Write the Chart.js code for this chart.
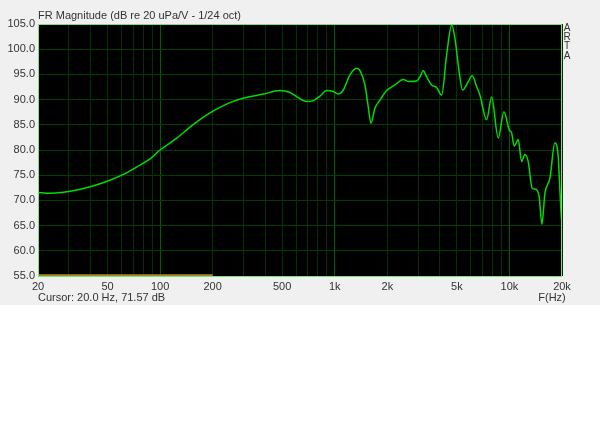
<!DOCTYPE html>
<html>
<head>
<meta charset="utf-8">
<script src="https://cdn.jsdelivr.net/npm/chart.js@4"></script>
<style>
  body { margin: 0; background: #fff; }
  #wrap { width: 600px; height: 305px; position: relative; }
</style>
</head>
<body>
<div id="wrap"><canvas id="frChart"></canvas></div>
<script>
// frequency (Hz) and magnitude (dB)
const freqHz = [20, 23.4, 28, 35, 43, 52, 62, 74, 88, 100,
  124, 154, 192, 240, 298, 390, 484, 554, 605, 690,
  753, 823, 899, 980, 1047, 1119, 1222, 1335, 1407, 1489,
  1555, 1611, 1698, 1814, 1982, 2211, 2466, 2635, 2944, 3074,
  3211, 3358, 3586, 3830, 4091, 4370, 4668, 4876, 5092, 5395,
  5808, 6124, 6490, 6776, 7404, 7908, 8628, 9300, 9974, 10294,
  10654, 11230, 11744, 12266, 12812, 13504, 14178, 14810, 15346, 15968,
  17054, 18216, 19026, 19452, 19896, 20000];
const magDb = [71.57, 71.4, 71.6, 72.2, 73.05, 74.05, 75.2, 76.7, 78.3, 80.0,
  82.3, 85.0, 87.3, 89.1, 90.25, 91.1, 91.8, 91.4, 90.6, 89.6,
  89.8, 90.7, 91.8, 91.6, 91.1, 91.9, 94.9, 96.2, 95.5, 92.9,
  88.6, 85.3, 88.3, 89.9, 91.8, 92.9, 94.0, 93.6, 93.7, 94.5,
  95.7, 94.5, 92.9, 92.4, 90.9, 98.85, 104.8, 102.2, 96.9, 91.9,
  93.55, 94.75, 92.6, 90.9, 86.0, 90.5, 82.4, 87.6, 84.0, 83.4,
  80.8, 82.1, 77.7, 79.1, 77.7, 72.4, 72.2, 70.7, 65.25, 71.4,
  74.4, 81.45, 78.7, 72.1, 66.1, 65.8];

// the short yellow trace along the bottom
const lowFreq = [20, 200];
const lowDb = [55.15, 55.15];

const xGrid = [20, 30, 40, 50, 60, 70, 80, 90, 100, 200, 300, 400, 500, 600, 700, 800, 900,
  1000, 2000, 3000, 4000, 5000, 6000, 7000, 8000, 9000, 10000, 20000];
const xLabels = { 20: '20', 50: '50', 100: '100', 200: '200', 500: '500',
  1000: '1k', 2000: '2k', 5000: '5k', 10000: '10k', 20000: '20k' };
const decades = [100, 1000, 10000];

const FONT = 'Liberation Sans, Arial, sans-serif';

const artaPlugin = {
  id: 'arta',
  beforeDraw(chart) {
    const c = chart.ctx, a = chart.chartArea;
    c.save();
    c.fillStyle = '#f0f0f0';
    c.fillRect(0, 0, chart.width, chart.height);
    c.fillStyle = '#000';
    c.fillRect(a.left, a.top, a.right - a.left, a.bottom - a.top);
    c.restore();
  },
  afterDraw(chart) {
    const c = chart.ctx, a = chart.chartArea;
    c.save();
    c.strokeStyle = '#7fdc7f';
    c.lineWidth = 1;
    c.strokeRect(a.left + 0.5, a.top + 0.5, a.right - a.left - 1, a.bottom - a.top);
    c.fillStyle = '#333';
    c.font = '11px ' + FONT;
    c.textBaseline = 'middle';
    c.textAlign = 'left';
    c.fillText('FR Magnitude (dB re 20 uPa/V - 1/24 oct)', 38, 16);
    c.fillText('Cursor: 20.0 Hz, 71.57 dB', 38, 298);
    c.textAlign = 'center';
    c.fillText('F(Hz)', 552, 298);
    c.font = '10px ' + FONT;
    ['A', 'R', 'T', 'A'].forEach((ch, i) => c.fillText(ch, 567, 28 + i * 9.3));
    c.restore();
  }
};

new Chart(document.getElementById('frChart'), {
  type: 'line',
  data: {
    datasets: [{
      data: freqHz.map((f, i) => ({ x: f, y: magDb[i] })),
      borderColor: '#00dc00',
      borderWidth: 1.5,
      pointRadius: 0,
      cubicInterpolationMode: 'monotone'
    }, {
      data: lowFreq.map((f, i) => ({ x: f, y: lowDb[i] })),
      borderColor: '#a88a1e',
      borderWidth: 2,
      pointRadius: 0
    }]
  },
  options: {
    responsive: true,
    maintainAspectRatio: false,
    animation: false,
    layout: { padding: { top: 24, right: 38, left: 0, bottom: 0 } },
    plugins: { legend: { display: false }, tooltip: { enabled: false } },
    scales: {
      x: {
        type: 'logarithmic',
        min: 20,
        max: 20000,
        afterBuildTicks: s => { s.ticks = xGrid.map(v => ({ value: v })); },
        afterFit: s => { s.height = 29; },
        border: { display: false },
        grid: {
          drawTicks: false,
          color: ctx => decades.includes(ctx.tick.value) ? 'rgb(0,95,0)' : 'rgb(0,50,0)'
        },
        ticks: {
          autoSkip: false,
          maxRotation: 0,
          padding: 4,
          color: '#333',
          font: { family: FONT, size: 11 },
          callback: v => xLabels[v] || ''
        }
      },
      y: {
        min: 55,
        max: 105,
        afterFit: s => { s.width = 38; },
        border: { display: false },
        grid: { drawTicks: false, color: 'rgb(0,62,0)' },
        ticks: {
          stepSize: 5,
          padding: 3,
          color: '#333',
          font: { family: FONT, size: 11 },
          callback: v => v.toFixed(1)
        }
      }
    }
  },
  plugins: [artaPlugin]
});
</script>
</body>
</html>
